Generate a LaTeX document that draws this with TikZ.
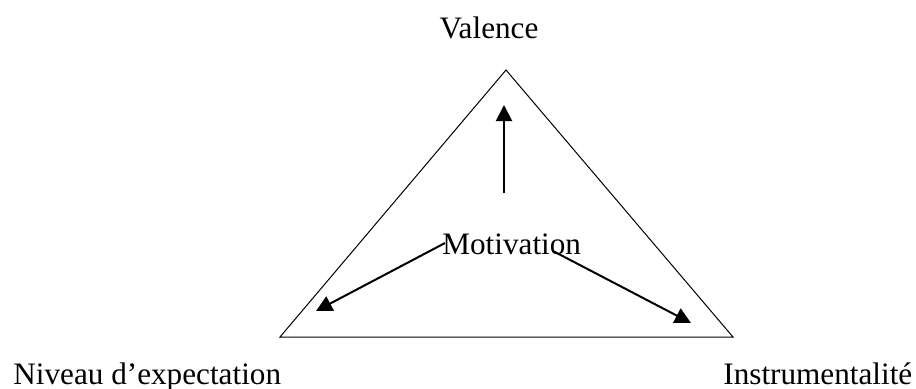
\documentclass[tikz,border=0pt]{standalone}
\usepackage{fontspec}
\setmainfont{Liberation Serif}
\usetikzlibrary{arrows.meta}
\tikzset{
  lbl/.style={inner sep=0pt, font=\fontsize{15.6}{18}\selectfont},
  side/.style={line width=0.5pt},
  pull/.style={line width=1pt, -{Triangle[length=8pt,width=8pt]}}
}
\begin{document}
\begin{tikzpicture}[x=0.5pt, y=-0.5pt]
  \useasboundingbox (0,0) rectangle (916,388);
  % the triangle
  \coordinate (top) at (506,70);
  \coordinate (bl) at (280,337);
  \coordinate (br) at (733,337);
  \draw[side] (top) -- (bl) -- (br) -- cycle;
  % labels
  \node[lbl, anchor=base] (val) at (489,38) {Valence};
  \node[lbl, anchor=base west] (niv) at (13,384) {Niveau d’expectation};
  \node[lbl, anchor=base west] (ins) at (723,384) {Instrumentalité};
  \node[lbl, anchor=base west] (mot) at (442,254) {Motivation};
  % arrows out of the centre
  \coordinate (up0) at (504,193);
  \coordinate (up1) at (504,105);
  \coordinate (lf0) at (445,243);
  \coordinate (lf1) at (316,311);
  \coordinate (rt0) at (553,251);
  \coordinate (rt1) at (691,323);
  \draw[pull] (up0) -- (up1);
  \draw[pull] (lf0) -- (lf1);
  \draw[pull] (rt0) -- (rt1);
\end{tikzpicture}
\end{document}
